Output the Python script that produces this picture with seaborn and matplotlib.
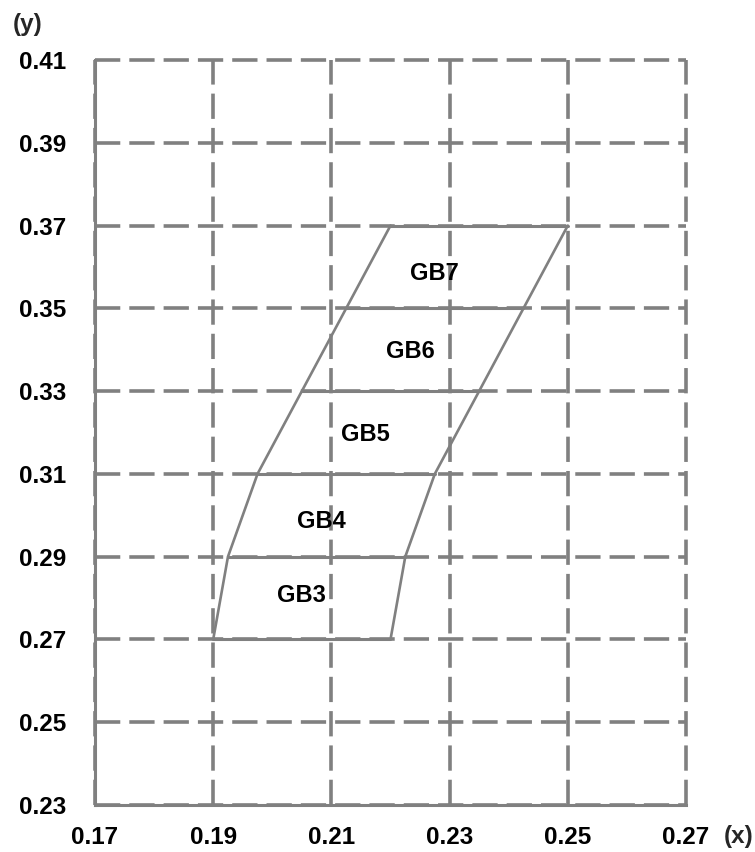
import matplotlib
matplotlib.use("Agg")
import matplotlib.pyplot as plt
import seaborn as sns
import pandas as pd

# ---- data ----
y_levels = [0.27, 0.29, 0.31, 0.33, 0.35, 0.37]
left_x = [0.190, 0.1925, 0.1975, 0.205, 0.2125, 0.220]
right_x = [0.220, 0.2225, 0.2275, 0.235, 0.2425, 0.250]
region_labels = ["GB3", "GB4", "GB5", "GB6", "GB7"]
label_x = [0.2050, 0.2083, 0.2158, 0.2233, 0.2275]
label_y = [0.2805, 0.2985, 0.3195, 0.3395, 0.3585]
x_ticks = [0.17, 0.19, 0.21, 0.23, 0.25, 0.27]
y_ticks = [0.23, 0.25, 0.27, 0.29, 0.31, 0.33, 0.35, 0.37, 0.39, 0.41]

sns.set_theme(style="white")
plt.rcParams['font.family'] = ['Liberation Sans', 'DejaVu Sans']

GRAY = "#808080"

fig = plt.figure(figsize=(7.55, 8.52), dpi=100)
ax = fig.add_axes([95/755, 1-805/852, (686-95)/755, (805-60)/852])

# boundary curves
bound = pd.DataFrame({
    "x": left_x + right_x,
    "y": y_levels + y_levels,
    "side": ["left"]*len(y_levels) + ["right"]*len(y_levels),
})
sns.lineplot(data=bound, x="x", y="y", units="side", estimator=None, sort=False,
             color=GRAY, linewidth=1.9, ax=ax, zorder=3)

# horizontal separators
rows = []
for i, (yl, lx, rx) in enumerate(zip(y_levels, left_x, right_x)):
    rows.append({"x": lx, "y": yl, "seg": i})
    rows.append({"x": rx, "y": yl, "seg": i})
segs = pd.DataFrame(rows)
sns.lineplot(data=segs, x="x", y="y", units="seg", estimator=None, sort=False,
             color=GRAY, linewidth=2.2, ax=ax, zorder=3)

for t, lx, ly in zip(region_labels, label_x, label_y):
    ax.text(lx, ly, t, ha="center", va="center", fontsize=17, fontweight="bold",
            color="black", zorder=4)

ax.set_xlim(0.17, 0.27)
ax.set_ylim(0.23, 0.41)
ax.set_xticks(x_ticks)
ax.set_yticks(y_ticks)
ax.set_xticklabels([f"{v:.2f}" for v in x_ticks], fontsize=17.5, fontweight="bold")
ax.set_yticklabels([f"{v:.2f}" for v in y_ticks], fontsize=17.5, fontweight="bold")
ax.tick_params(axis="x", length=0, pad=15, colors="black")
ax.tick_params(axis="y", length=0, pad=21, colors="black")
ax.set_xlabel("")
ax.set_ylabel("")

ax.grid(True, color=GRAY, linewidth=2.6, linestyle=(0, (7, 2.5)), zorder=1)
for gl in ax.get_xgridlines() + ax.get_ygridlines():
    gl.set_clip_on(False)
ax.set_axisbelow(True)

for s in ["top", "right"]:
    ax.spines[s].set_visible(False)
for s in ["left", "bottom"]:
    ax.spines[s].set_color(GRAY)
    ax.spines[s].set_linewidth(2.2)
    ax.spines[s].set_zorder(5)

fig.text(13/755, 1-25/852, "(y)", fontsize=17.5, fontweight="bold", ha="left", va="center")
fig.text(724/755, 1-836/852, "(x)", fontsize=17.5, fontweight="bold", ha="left", va="center")

fig.savefig("out.png", dpi=100)
